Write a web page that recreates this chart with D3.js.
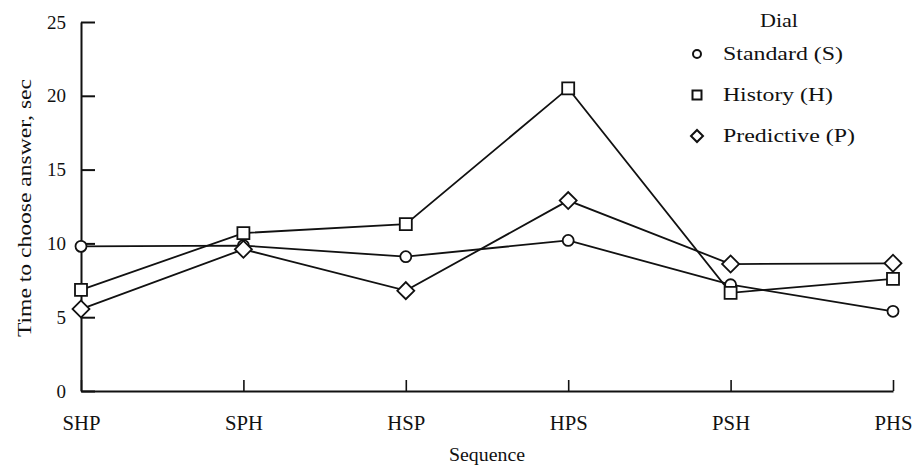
<!DOCTYPE html>
<html>
<head>
<meta charset="utf-8">
<script src="https://cdn.jsdelivr.net/npm/d3@7"></script>
<style>
  html, body { margin: 0; padding: 0; background: #fff; }
  svg { display: block; }
  text { font-family: "Liberation Serif", "Times New Roman", serif; fill: #111; }
</style>
</head>
<body>
<svg id="chart" width="917" height="470"></svg>
<script>
// ---- data ----
const categories = ["SHP", "SPH", "HSP", "HPS", "PSH", "PHS"];
const standardValues   = [9.8, 9.85, 9.1, 10.2, 7.2, 5.4];
const historyValues    = [6.85, 10.7, 11.3, 20.5, 6.65, 7.6];
const predictiveValues = [5.55, 9.6, 6.8, 12.9, 8.6, 8.65];
const yTicks = [0, 5, 10, 15, 20, 25];
const seriesNames = ["Standard (S)", "History (H)", "Predictive (P)"];
const legendTitle = "Dial";
const xTitle = "Sequence";
const yTitle = "Time to choose answer, sec";

// ---- layout ----
const svg = d3.select("#chart");
const x = d3.scalePoint().domain(categories).range([81, 893]);
const y = d3.scaleLinear().domain([0, 25]).range([391, 22]);
const ink = "#111";

const series = [
  { name: seriesNames[0], values: standardValues, shape: "circle" },
  { name: seriesNames[1], values: historyValues, shape: "square" },
  { name: seriesNames[2], values: predictiveValues, shape: "diamond" }
];

// y axis (ticks pointing inward)
const yAxis = svg.append("g")
  .attr("transform", "translate(81,0)")
  .call(d3.axisLeft(y).tickValues(yTicks).tickSizeInner(-14).tickSizeOuter(0).tickPadding(15)
    .tickFormat(d3.format("d")));
yAxis.select(".domain").attr("stroke", ink).attr("stroke-width", 2);
yAxis.selectAll(".tick line").attr("stroke", ink).attr("stroke-width", 2);
yAxis.selectAll(".tick text").style("font-size", "19px").attr("fill", ink);

// x axis (ticks pointing upward)
const xAxis = svg.append("g")
  .attr("transform", "translate(0,391)")
  .call(d3.axisBottom(x).tickSizeInner(-11).tickSizeOuter(0).tickPadding(25));
xAxis.select(".domain").attr("stroke", ink).attr("stroke-width", 2);
xAxis.selectAll(".tick line").attr("stroke", ink).attr("stroke-width", 1.6);
xAxis.selectAll(".tick text").style("font-size", "20px").attr("fill", ink)
  .attr("dy", "0.71em").attr("textLength", 38).attr("lengthAdjust", "spacingAndGlyphs");

// axis titles
svg.append("text")
  .attr("x", 487).attr("y", 461)
  .attr("text-anchor", "middle")
  .style("font-size", "18px")
  .attr("textLength", 76).attr("lengthAdjust", "spacingAndGlyphs")
  .text(xTitle);

svg.append("text")
  .attr("transform", "translate(31,208) rotate(-90)")
  .attr("text-anchor", "middle")
  .style("font-size", "19px")
  .attr("textLength", 258).attr("lengthAdjust", "spacingAndGlyphs")
  .text(yTitle);

// symbol helper
function symbolPath(shape, scale) {
  if (shape === "circle") return d3.symbol(d3.symbolCircle, 95 * scale)();
  return d3.symbol(d3.symbolSquare, 144 * scale)();
}

// lines
const line = d3.line().x((d, i) => x(categories[i])).y(d => y(d));
svg.append("g").selectAll("path")
  .data(series)
  .join("path")
  .attr("d", s => line(s.values))
  .attr("fill", "none")
  .attr("stroke", ink)
  .attr("stroke-width", 1.8);

// markers
series.forEach(s => {
  svg.append("g").selectAll("path")
    .data(s.values)
    .join("path")
    .attr("d", symbolPath(s.shape, 1))
    .attr("transform", (d, i) => `translate(${x(categories[i])},${y(d)})` + (s.shape === "diamond" ? " rotate(45)" : ""))
    .attr("fill", "#fff")
    .attr("stroke", ink)
    .attr("stroke-width", 1.8);
});

// legend
const legend = svg.append("g");
legend.append("text")
  .attr("x", 779).attr("y", 27)
  .attr("text-anchor", "middle")
  .style("font-size", "19px")
  .attr("textLength", 38).attr("lengthAdjust", "spacingAndGlyphs")
  .text(legendTitle);
const legendY = [54, 95, 136];
const legendW = [120, 110, 132];
series.forEach((s, i) => {
  legend.append("path")
    .attr("d", s.shape === "circle" ? d3.symbol(d3.symbolCircle, 50)() : d3.symbol(d3.symbolSquare, s.shape === "square" ? 81 : 72)())
    .attr("transform", `translate(697,${legendY[i]})` + (s.shape === "diamond" ? " rotate(45)" : ""))
    .attr("fill", "#fff")
    .attr("stroke", ink)
    .attr("stroke-width", 2);
  legend.append("text")
    .attr("x", 723).attr("y", legendY[i] + 6)
    .style("font-size", "19px")
    .attr("textLength", legendW[i]).attr("lengthAdjust", "spacingAndGlyphs")
    .text(s.name);
});
</script>
</body>
</html>
